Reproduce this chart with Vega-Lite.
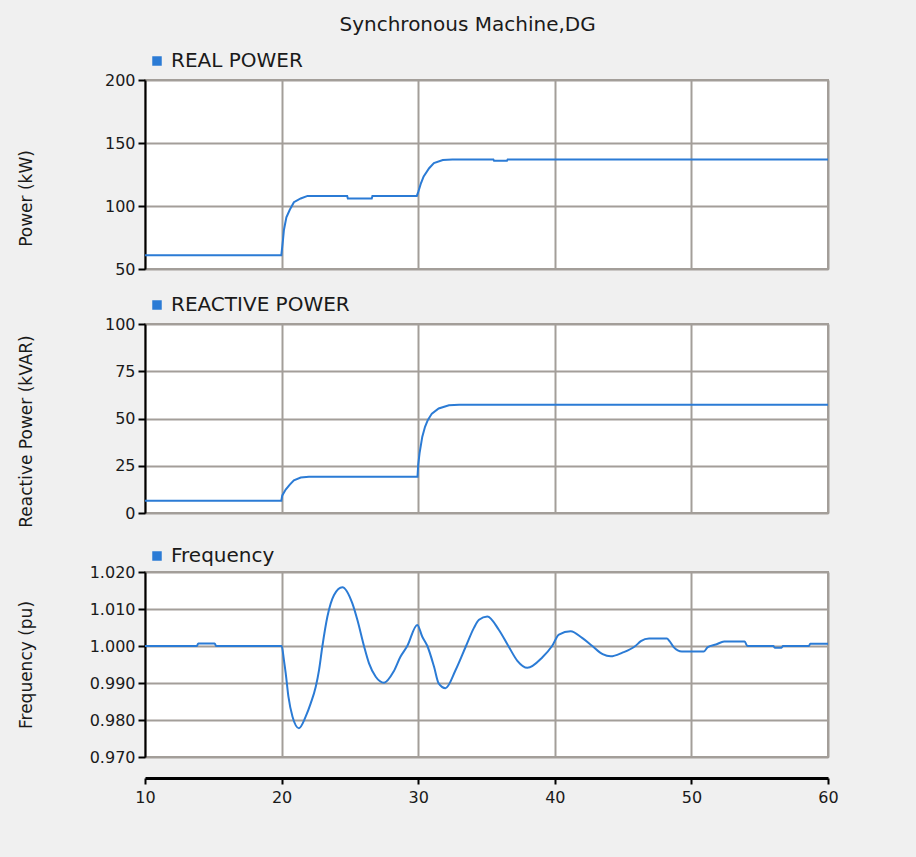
{
  "$schema": "https://vega.github.io/schema/vega-lite/v6.json",
  "background": "#f0f0f0",
  "padding": {"left": 16, "top": 15, "right": 80, "bottom": 56},
  "title": {"text": "Synchronous Machine,DG", "fontSize": 20, "font": "DejaVu Sans", "fontWeight": "normal", "color": "#1a1a1a", "anchor": "middle", "dx": 40, "offset": 13},
  "datasets": {
    "p": [
      {"t": 10, "v": 61}, {"t": 19.98, "v": 61}, {"t": 20.05, "v": 68}, {"t": 20.1, "v": 73}, {"t": 20.17, "v": 81},
      {"t": 20.35, "v": 91}, {"t": 20.6, "v": 97}, {"t": 20.9, "v": 103}, {"t": 21.4, "v": 106}, {"t": 21.9, "v": 108},
      {"t": 24.8, "v": 108}, {"t": 24.85, "v": 106}, {"t": 26.6, "v": 106}, {"t": 26.65, "v": 108}, {"t": 29.9, "v": 108},
      {"t": 30.0, "v": 111}, {"t": 30.2, "v": 118}, {"t": 30.4, "v": 123.5}, {"t": 30.8, "v": 130}, {"t": 31.15, "v": 134},
      {"t": 31.8, "v": 136.5}, {"t": 32.5, "v": 137}, {"t": 35.5, "v": 137}, {"t": 35.55, "v": 136}, {"t": 36.5, "v": 136},
      {"t": 36.55, "v": 137}, {"t": 60, "v": 137}
    ],
    "q": [
      {"t": 10, "v": 6.5}, {"t": 19.98, "v": 6.5}, {"t": 20.05, "v": 9.3}, {"t": 20.3, "v": 12.4}, {"t": 20.6, "v": 15},
      {"t": 20.9, "v": 17.3}, {"t": 21.4, "v": 18.8}, {"t": 22, "v": 19.2}, {"t": 29.95, "v": 19.2}, {"t": 30.0, "v": 25.5},
      {"t": 30.1, "v": 31.7}, {"t": 30.3, "v": 40.4}, {"t": 30.5, "v": 45.6}, {"t": 30.7, "v": 49.1}, {"t": 31.0, "v": 52.6},
      {"t": 31.5, "v": 55.3}, {"t": 32.25, "v": 57}, {"t": 33, "v": 57.3}, {"t": 60, "v": 57.3}
    ],
    "f": [
      {"t": 10, "v": 1.0}, {"t": 13.8, "v": 1.0}, {"t": 13.9, "v": 1.0007}, {"t": 15.1, "v": 1.0007}, {"t": 15.2, "v": 1.0},
      {"t": 20.0, "v": 1.0}, {"t": 20.17, "v": 0.9962}, {"t": 20.3, "v": 0.9927}, {"t": 20.5, "v": 0.9863}, {"t": 20.8, "v": 0.9809},
      {"t": 21.27, "v": 0.9778}, {"t": 21.76, "v": 0.9809}, {"t": 22.13, "v": 0.9845}, {"t": 22.5, "v": 0.989}, {"t": 22.74, "v": 0.9935},
      {"t": 22.98, "v": 0.9998}, {"t": 23.35, "v": 1.0079}, {"t": 23.84, "v": 1.0138}, {"t": 24.45, "v": 1.0159}, {"t": 25.18, "v": 1.0115},
      {"t": 25.55, "v": 1.007}, {"t": 26.03, "v": 1.0}, {"t": 26.4, "v": 0.9953}, {"t": 26.89, "v": 0.9917}, {"t": 27.5, "v": 0.9901},
      {"t": 28.2, "v": 0.9931}, {"t": 28.7, "v": 0.9971}, {"t": 29.2, "v": 1.0}, {"t": 29.93, "v": 1.0057}, {"t": 30.3, "v": 1.0025},
      {"t": 30.67, "v": 1.0}, {"t": 31.16, "v": 0.9944}, {"t": 31.5, "v": 0.9899}, {"t": 32.0, "v": 0.9886}, {"t": 32.74, "v": 0.9935},
      {"t": 33.5, "v": 1.0}, {"t": 34.08, "v": 1.0049}, {"t": 34.45, "v": 1.0071}, {"t": 35.06, "v": 1.008}, {"t": 35.9, "v": 1.0044},
      {"t": 36.6, "v": 1.0}, {"t": 37.26, "v": 0.996}, {"t": 37.99, "v": 0.9941}, {"t": 39.08, "v": 0.9969}, {"t": 39.8, "v": 1.0},
      {"t": 40.3, "v": 1.0031}, {"t": 41.16, "v": 1.004}, {"t": 42.0, "v": 1.0022}, {"t": 42.75, "v": 1.0}, {"t": 43.5, "v": 0.9978},
      {"t": 44.09, "v": 0.9972}, {"t": 44.95, "v": 0.9982}, {"t": 45.9, "v": 1.0}, {"t": 46.3, "v": 1.0013}, {"t": 46.9, "v": 1.002},
      {"t": 48.2, "v": 1.002}, {"t": 48.4, "v": 1.0013}, {"t": 48.7, "v": 0.9997}, {"t": 49.3, "v": 0.9985}, {"t": 50.9, "v": 0.9985},
      {"t": 51.2, "v": 0.9997}, {"t": 51.8, "v": 1.0004}, {"t": 52.4, "v": 1.0012}, {"t": 53.9, "v": 1.0012}, {"t": 54.1, "v": 1.0},
      {"t": 56.0, "v": 1.0}, {"t": 56.1, "v": 0.9995}, {"t": 56.6, "v": 0.9995}, {"t": 56.7, "v": 1.0}, {"t": 58.6, "v": 1.0},
      {"t": 58.7, "v": 1.0006}, {"t": 60, "v": 1.0006}
    ]
  },
  "spacing": 14,
  "resolve": {"scale": {"color": "independent"}, "legend": {"color": "independent"}},
  "vconcat": [
    {
      "width": 683, "height": 189,
      "data": {"name": "p"},
      "mark": {"type": "line", "strokeWidth": 2},
      "encoding": {
        "x": {"field": "t", "type": "quantitative", "scale": {"domain": [10, 60], "nice": false},
              "axis": {"title": null, "labels": false, "ticks": false, "domain": false, "values": [10, 20, 30, 40, 50, 60]}},
        "y": {"field": "v", "type": "quantitative", "scale": {"domain": [50, 200], "nice": false},
              "axis": {"title": "Power (kW)", "values": [50, 100, 150, 200], "titleX": -110, "titleY": 118}},
        "color": {"datum": "REAL POWER", "type": "nominal", "scale": {"range": ["#2b7bd5"]},
                  "legend": {"orient": "top", "title": null, "offset": 7}}
      }
    },
    {
      "width": 683, "height": 189,
      "data": {"name": "q"},
      "mark": {"type": "line", "strokeWidth": 2},
      "encoding": {
        "x": {"field": "t", "type": "quantitative", "scale": {"domain": [10, 60], "nice": false},
              "axis": {"title": null, "labels": false, "ticks": false, "domain": false, "values": [10, 20, 30, 40, 50, 60]}},
        "y": {"field": "v", "type": "quantitative", "scale": {"domain": [0, 100], "nice": false},
              "axis": {"title": "Reactive Power (kVAR)", "values": [0, 25, 50, 75, 100], "titleX": -110, "titleY": 107}},
        "color": {"datum": "REACTIVE POWER", "type": "nominal", "scale": {"range": ["#2b7bd5"]},
                  "legend": {"orient": "top", "title": null, "offset": 7}}
      }
    },
    {
      "width": 683, "height": 185,
      "data": {"name": "f"},
      "mark": {"type": "line", "strokeWidth": 2, "interpolate": "monotone"},
      "encoding": {
        "x": {"field": "t", "type": "quantitative", "scale": {"domain": [10, 60], "nice": false},
              "axis": {"title": null, "offset": 21, "values": [10, 20, 30, 40, 50, 60], "domainWidth": 3, "tickSize": 6, "labelPadding": 5, "labelFlush": false}},
        "y": {"field": "v", "type": "quantitative", "scale": {"domain": [0.97, 1.02], "nice": false, "zero": false},
              "axis": {"title": "Frequency  (pu)", "values": [0.97, 0.98, 0.99, 1.0, 1.01, 1.02], "format": ".3f", "titleX": -110}},
        "color": {"datum": "Frequency", "type": "nominal", "scale": {"range": ["#2b7bd5"]},
                  "legend": {"orient": "top", "title": null, "offset": 4}}
      }
    }
  ],
  "config": {
    "font": "DejaVu Sans",
    "view": {"fill": "white", "stroke": "#a39e99", "strokeWidth": 2},
    "axis": {
      "gridColor": "#a39e99", "gridWidth": 2, "gridOpacity": 1,
      "labelFont": "DejaVu Sans", "labelFontSize": 16, "labelColor": "#1a1a1a",
      "titleFont": "DejaVu Sans", "titleFontSize": 17, "titleFontWeight": "normal", "titleColor": "#1a1a1a",
      "domainColor": "#000000", "domainWidth": 2, "tickColor": "#000000", "tickWidth": 2, "tickSize": 7, "labelPadding": 3
    },
    "legend": {
      "symbolType": "square", "symbolSize": 90, "symbolFillColor": "#2b7bd5", "symbolStrokeWidth": 0,
      "labelFont": "DejaVu Sans", "labelFontSize": 20, "labelColor": "#1a1a1a", "labelLimit": 500, "padding": 2
    }
  }
}
